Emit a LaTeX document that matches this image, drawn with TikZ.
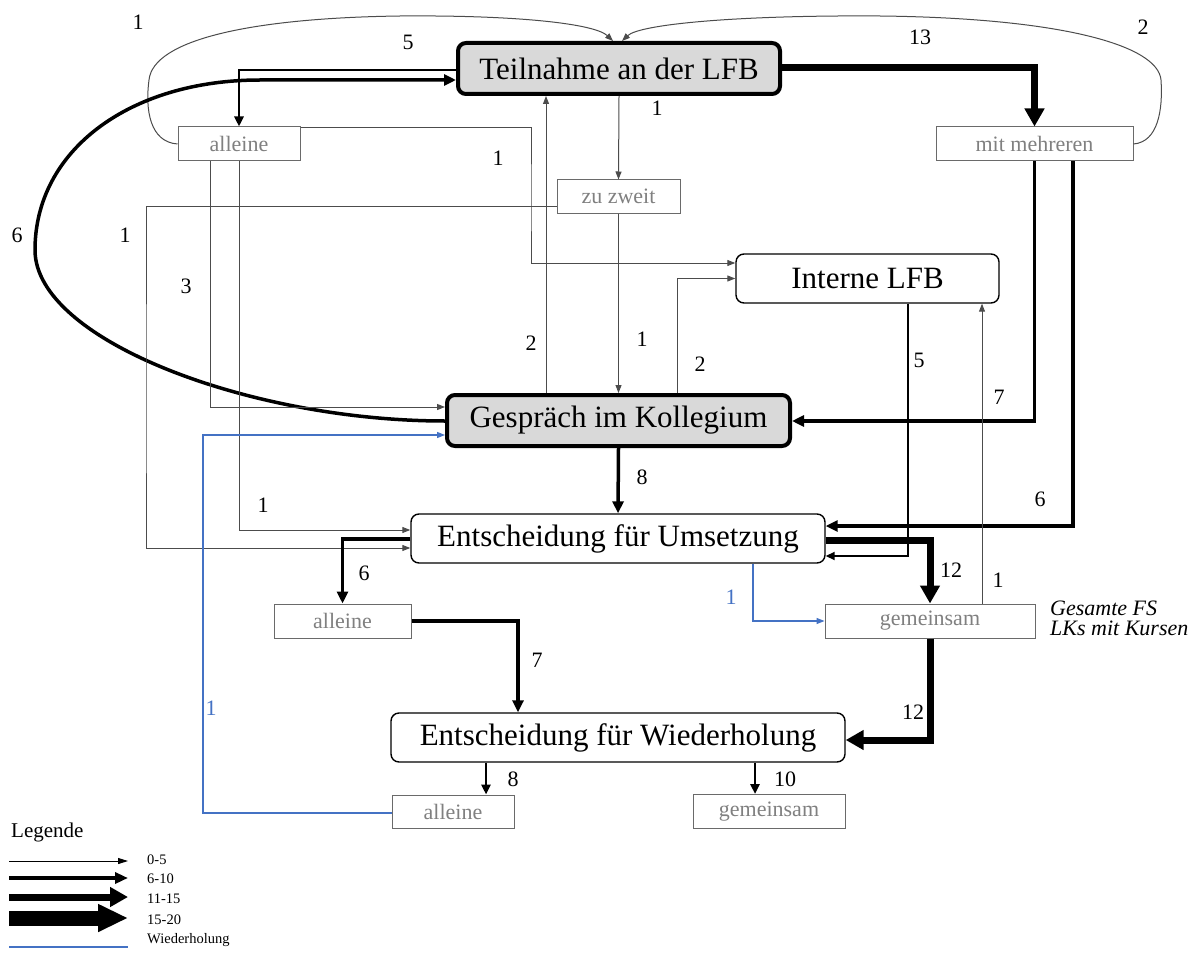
\documentclass[tikz,border=0pt]{standalone}
\usepackage{fontspec}
\setmainfont{Liberation Serif}
\usetikzlibrary{arrows.meta}
\definecolor{boxgray}{HTML}{D9D9D9}
\definecolor{subgray}{HTML}{808080}
\definecolor{edgegray}{HTML}{6A6A6A}
\definecolor{linkblue}{HTML}{4472C4}
\newcommand\dgNode{\fontsize{31}{37}\selectfont}
\newcommand\dgSub{\fontsize{22}{26}\selectfont}
\newcommand\dgNum{\fontsize{22}{26}\selectfont}
\newcommand\dgNote{\fontsize{22}{26}\selectfont\itshape}
\newcommand\dgLeg{\fontsize{14.5}{17}\selectfont}
\newcommand\dgLegHead{\fontsize{21}{25}\selectfont}

\begin{document}
\begin{tikzpicture}[x=1pt,y=-1pt,
  mainbox/.style={draw,line width=4pt,fill=boxgray,rounded corners=8pt,inner sep=0pt,font=\dgNode},
  plainbox/.style={draw,line width=1.4pt,fill=white,rounded corners=8pt,inner sep=0pt,font=\dgNode},
  subbox/.style={draw=edgegray,line width=1pt,fill=white,inner sep=0pt,text=subgray,font=\dgSub},
  thinarr/.style={draw=black!70,line width=1pt,-{Triangle[length=8pt,width=6pt]}},
  darkarr/.style={draw=black,line width=1.8pt,-{Triangle[length=9pt,width=8pt]}},
  semiarr/.style={draw=black,line width=2.6pt,-{Triangle[length=10pt,width=9pt]}},
  midarr/.style={draw=black,line width=3.5pt,-{Triangle[length=12pt,width=11pt]}},
  bigarr/.style={draw=black,line width=7pt,-{Triangle[length=18pt,width=19pt]}},
  bluearr/.style={draw=linkblue,line width=1.1pt,-{Triangle[length=8pt,width=6pt]}},
  num/.style={font=\dgNum,inner sep=0pt},
  bluenum/.style={font=\dgNum,inner sep=0pt,text=linkblue},
  legtext/.style={font=\dgLeg,inner sep=0pt,anchor=west}
]
\fill[white] (0,0) rectangle (1198,952);
\useasboundingbox (0,0) rectangle (1198,952);

% main stages
\node[mainbox,minimum width=322pt,minimum height=51pt] (teil) at (619,68.5) {Teilnahme an der LFB};
\node[mainbox,minimum width=343pt,minimum height=51pt] (gesp) at (618.5,420.5) {Gespräch im Kollegium};
\node[plainbox,minimum width=263pt,minimum height=49pt] (intl) at (867.5,278.5) {Interne LFB};
\node[plainbox,minimum width=414pt,minimum height=49pt] (umset) at (618,538.5) {Entscheidung für Umsetzung};
\node[plainbox,minimum width=454pt,minimum height=49pt] (wied) at (618,737.5) {Entscheidung für Wiederholung};

% group sizes
\node[subbox,minimum width=122pt,minimum height=34pt] (al1) at (239,144) {alleine};
\node[subbox,minimum width=123pt,minimum height=33pt] (zz) at (618.5,196.5) {zu zweit};
\node[subbox,minimum width=197pt,minimum height=34pt] (mm) at (1034.5,144) {mit mehreren};
\node[subbox,minimum width=137pt,minimum height=34pt] (al2) at (342.5,621) {alleine};
\node[subbox,minimum width=210pt,minimum height=34pt] (gm1) at (930,621) {gemeinsam};
\node[subbox,minimum width=122pt,minimum height=33pt] (al3) at (453,811.5) {alleine};
\node[subbox,minimum width=152pt,minimum height=34pt] (gm2) at (769,811.5) {gemeinsam};

% loops back to the workshop
\draw[thinarr] (al1.west) .. controls (150,142) and (145,110) .. (149,80)
  .. controls (153,40) and (250,18) .. (400,16)
  .. controls (520,15) and (595,24) .. ([xshift=-6pt]teil.north);
\draw[thinarr] (mm.east) .. controls (1158,142) and (1163,110) .. (1161,80)
  .. controls (1158,45) and (1060,18) .. (880,16)
  .. controls (740,15) and (640,24) .. ([xshift=3pt]teil.north);
\draw[midarr] ([yshift=-0.5pt]gesp.west) .. controls (250,421) and (35,340) .. (35,250)
  .. controls (35,150) and (130,80) .. (260,80) -- ([yshift=-11.5pt]teil.west);

% from the workshop
\draw[semiarr] ([yshift=-1.5pt]teil.west) -| (al1.north);
\draw[bigarr] ([yshift=0.5pt]teil.east) -| (mm.north);
\draw[thinarr] (teil.south) -- (zz.north);

% from the group sizes
\draw[thinarr] ([yshift=16pt]al1.east) -| (531,200) |- ([yshift=15.5pt]intl.west);
\draw[thinarr] ([yshift=-9.5pt]zz.west) -| (146,400) |- ([yshift=-9.5pt]umset.west);
\draw[thinarr] ([xshift=-29pt]al1.south) |- ([yshift=13.5pt]gesp.west);
\draw[thinarr] (al1.south) |- ([yshift=8.5pt]umset.west);
\draw[thinarr] (zz.south) -- (gesp.north);
\draw[midarr] (mm.south) |- ([yshift=-0.5pt]gesp.east);
\draw[midarr] ([xshift=38.5pt]mm.south) |- ([yshift=12.5pt]umset.east);

% from the staff talk
\draw[thinarr] ([xshift=-72.5pt]gesp.north) -- ([xshift=-73pt]teil.south);
\draw[thinarr] ([xshift=58.5pt]gesp.north) |- (intl.west);
\draw[midarr] (gesp.south) -- (umset.north);

% internal training
\draw[darkarr] ([xshift=40.5pt]intl.south) |- ([yshift=-17.5pt]umset.east);
\draw[thinarr] ([xshift=52pt]gm1.north) -- ([xshift=114.5pt]intl.south);

% decision for implementation
\draw[bigarr] ([yshift=-1.5pt]umset.east) -| (gm1.north);
\draw[bluearr] ([xshift=135pt]umset.south) |- (gm1.west);
\draw[midarr] ([yshift=-0.5pt]umset.west) -| (al2.north);
\draw[midarr] (al2.east) -| ([xshift=-100pt]wied.north);
\draw[bigarr] (gm1.south) |- ([yshift=-2.5pt]wied.east);

% decision for repetition
\draw[semiarr] ([xshift=-132pt]wied.south) -- ([xshift=33pt]al3.north);
\draw[semiarr] ([xshift=137pt]wied.south) -- ([xshift=-14pt]gm2.north);
\draw[bluearr] ([yshift=-1.5pt]al3.west) -| (203,600) |- ([yshift=-14.5pt]gesp.west);

% counts
\node[num] (c01) at (138,22) {1};
\node[num] (c02) at (408,42) {5};
\node[num] (c03) at (920,37) {13};
\node[num] (c04) at (1143,27) {2};
\node[num] (c05) at (657,108) {1};
\node[num] (c06) at (498,158) {1};
\node[num] (c07) at (17,235) {6};
\node[num] (c08) at (125,235) {1};
\node[num] (c09) at (186,286) {3};
\node[num] (c10) at (531,343) {2};
\node[num] (c11) at (642,339) {1};
\node[num] (c12) at (700,364) {2};
\node[num] (c13) at (919,360) {5};
\node[num] (c14) at (999,397) {7};
\node[num] (c15) at (642,477) {8};
\node[num] (c16) at (263,505) {1};
\node[num] (c17) at (1040,499) {6};
\node[num] (c18) at (364,573) {6};
\node[num] (c19) at (951,570) {12};
\node[num] (c20) at (998,580) {1};
\node[bluenum] (c21) at (731,597) {1};
\node[num] (c22) at (537,660) {7};
\node[bluenum] (c23) at (211,708) {1};
\node[num] (c24) at (913,712) {12};
\node[num] (c25) at (513,779) {8};
\node[num] (c26) at (785,779) {10};

% note beside the joint group
\node[font=\dgNote,inner sep=0pt,anchor=west] (note1) at (1050,608) {Gesamte FS};
\node[font=\dgNote,inner sep=0pt,anchor=west] (note2) at (1050,628) {LKs mit Kursen};

% legend
\node[font=\dgLegHead,inner sep=0pt,anchor=west] (leghead) at (11,832) {Legende};
\coordinate (la1) at (9,861);  \coordinate (lb1) at (128,861);
\coordinate (la2) at (9,878);  \coordinate (lb2) at (128,878);
\coordinate (la3) at (9,897);  \coordinate (lb3) at (128,897);
\coordinate (la4) at (9,918);  \coordinate (lb4) at (128,918);
\coordinate (la5) at (9,947);  \coordinate (lb5) at (128,947);
\draw[line width=1pt,-{Triangle[length=10pt,width=6pt]}] (la1) -- (lb1);
\draw[line width=3.5pt,-{Triangle[length=13pt,width=11pt]}] (la2) -- (lb2);
\draw[line width=7pt,-{Triangle[length=18pt,width=19pt]}] (la3) -- (lb3);
\draw[line width=15pt,-{Triangle[length=30pt,width=26pt]}] (la4) -- (lb4);
\draw[linkblue,line width=1.6pt] (la5) -- (lb5);
\node[legtext] (lt1) at (147,860) {0-5};
\node[legtext] (lt2) at (147,879) {6-10};
\node[legtext] (lt3) at (147,899) {11-15};
\node[legtext] (lt4) at (147,920) {15-20};
\node[legtext] (lt5) at (147,940) {Wiederholung};
\end{tikzpicture}
\end{document}
